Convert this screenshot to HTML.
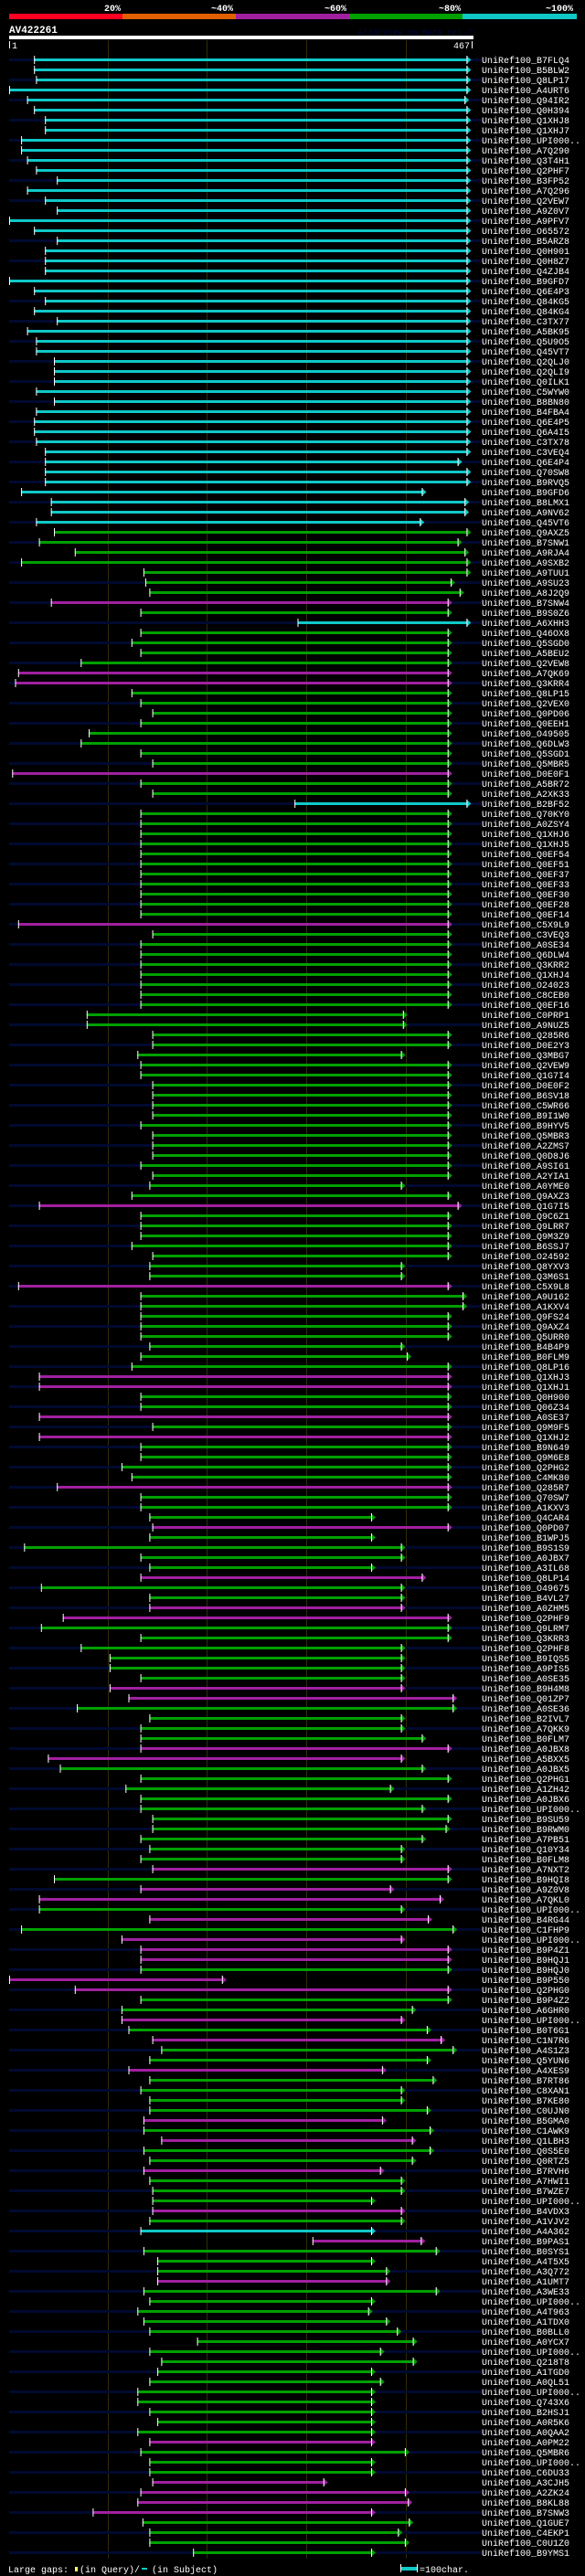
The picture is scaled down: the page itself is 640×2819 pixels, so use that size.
<!DOCTYPE html>
<html><head><meta charset="utf-8"><title>AlignView</title>
<style>
html,body{margin:0;padding:0;background:#000;}
svg{display:block;}
text{font-family:"Liberation Mono",monospace;}
</style></head>
<body>
<svg id="chart" width="640" height="2819" xmlns="http://www.w3.org/2000/svg">
  <rect x="0" y="0" width="640" height="2819" fill="#000"/>
  <g>
    <rect x="10" y="15" width="124" height="6" fill="#ff0020"/>
    <rect x="134" y="15" width="124" height="6" fill="#e06000"/>
    <rect x="258" y="15" width="124" height="6" fill="#a020a0"/>
    <rect x="382" y="15" width="124" height="6" fill="#00a000"/>
    <rect x="506" y="15" width="125" height="6" fill="#10c8c8"/>
    <text x="123" y="12" fill="#fff" font-size="10" font-weight="bold" text-anchor="middle">20%</text>
    <text x="243" y="12" fill="#fff" font-size="10" font-weight="bold" text-anchor="middle">~40%</text>
    <text x="367" y="12" fill="#fff" font-size="10" font-weight="bold" text-anchor="middle">~60%</text>
    <text x="492" y="12" fill="#fff" font-size="10" font-weight="bold" text-anchor="middle">~80%</text>
    <text x="612" y="12" fill="#fff" font-size="10" font-weight="bold" text-anchor="middle">~100%</text>
  </g>
  <text x="10" y="36" fill="#fff" font-size="11" font-weight="bold">AV422261</text>
  <text x="516" y="38" fill="#000840" font-size="9" text-anchor="end">AlignView.pm Beta rel.7</text>
  <rect x="10" y="39" width="508" height="4" fill="#fff"/>
  <rect x="10" y="45" width="1" height="8" fill="#fff"/>
  <text x="13" y="53" fill="#fff" font-size="10">1</text>
  <text x="514" y="53" fill="#fff" font-size="10" text-anchor="end">467</text>
  <rect x="516" y="45" width="1" height="8" fill="#fff"/>
  <g id="grid"></g>
  <g id="rows"></g>
  <g>
    <text x="9" y="2815" fill="#fff" font-size="10">Large gaps:</text>
    <rect x="82" y="2809" width="3" height="5" fill="#ffff60"/>
    <text x="87" y="2815" fill="#fff" font-size="10">(in Query)/</text>
    <rect x="155" y="2810" width="6" height="2" fill="#10c8c8"/>
    <text x="166" y="2815" fill="#fff" font-size="10">(in Subject)</text>
    <rect x="439" y="2809" width="17" height="4" fill="#10c8c8"/>
    <rect x="438" y="2806" width="1" height="9" fill="#fff"/>
    <rect x="456" y="2806" width="1" height="9" fill="#fff"/>
    <text x="459" y="2815" fill="#fff" font-size="10">=100char.</text>
  </g>
</svg>
<script>
const queryLength = 467;
const gridTicks = [100, 200, 300, 400];
const hitNames = ["B7FLQ4","B5BLW2","Q8LP17","A4URT6","Q94IR2","Q0H394","Q1XHJ8","Q1XHJ7","UPI000..","A7Q290","Q3T4H1","Q2PHF7","B3FP52","A7Q296","Q2VEW7","A9Z0V7","A9PFV7","O65572","B5ARZ8","Q0H901","Q0H8Z7","Q4ZJB4","B9GFD7","Q6E4P3","Q84KG5","Q84KG4","C3TX77",
"A5BK95","Q5U9O5","Q45VT7","Q2QLJ0","Q2QLI9","Q0ILK1","C5WYW0","B8BN80","B4FBA4","Q6E4P5","Q6A4I5","C3TX78","C3VEQ4","Q6E4P4","Q70SW8","B9RVQ5","B9GFD6","B8LMX1","A9NV62","Q45VT6","Q9AXZ5","B7SNW1","A9RJA4","A9SXB2","A9TUU1","A9SU23","A8J2Q9",
"B7SNW4","B9S0Z6","A6XHH3","Q46OX8","Q5SGD0","A5BEU2","Q2VEW8","A7QK69","Q3KRR4","Q8LP15","Q2VEX0","Q0PD06","Q0EEH1","O49505","Q6DLW3","Q5SGD1","Q5MBR5","D0E0F1","A5BR72","A2XK33","B2BF52","Q70KY0","A0ZSY4","Q1XHJ6","Q1XHJ5","Q0EF54","Q0EF51","Q0EF37",
"Q0EF33","Q0EF30","Q0EF28","Q0EF14","C5X9L9","C3VEQ3","A0SE34","Q6DLW4","Q3KRR2","Q1XHJ4","O24023","C8CEB0","Q0EF16","C0PRP1","A9NUZ5","Q285R6","D0E2Y3","Q3MBG7","Q2VEW9","Q1G7I4","D0E0F2","B6SV18","C5WR66","B9I1W0","B9HYV5","Q5MBR3","A2ZMS7",
"Q0D8J6","A9SI61","A2YIA1","A0YME0","Q9AXZ3","Q1G7I5","Q9C6Z1","Q9LRR7","Q9M3Z9","B6SSJ7","O24592","Q8YXV3","Q3M6S1","C5X9L8","A9U162","A1KXV4","Q9FS24","Q9AXZ4","Q5URR0","B4B4P9","B0FLM9","Q8LP16","Q1XHJ3","Q1XHJ1","Q0H900","Q06Z34","A0SE37",
"Q9M9F5","Q1XHJ2","B9N649","Q9M6E8","Q2PHG2","C4MK80","Q285R7","Q70SW7","A1KXV3","Q4CAR4","Q0PD07","B1WPJ5","B9S1S9","A0JBX7","A3IL68","Q8LP14","O49675","B4VL27","A0ZHM5","Q2PHF9","Q9LRM7","Q3KRR3","Q2PHF8","B9IQS5","A9PIS5","A0SE35","B9H4M8",
"Q01ZP7","A0SE36","B2IVL7","A7QKK9","B0FLM7","A0JBX8","A5BXX5","A0JBX5","Q2PHG1","A1ZH42","A0JBX6","UPI000..","B9SU59","B9RWM0","A7PB51","Q10Y34","B0FLM8","A7NXT2","B9HQI8","A9Z0V8","A7QKL0","UPI000..","B4RG44","C1FHP9","UPI000..","B9P4Z1","B9HQJ1","B9HQJ0",
"B9P550","Q2PHG0","B9P4Z2","A6GHR0","UPI000..","B0T6G1","C1N7R6","A4S1Z3","Q5YUN6","A4XES9","B7RT86","C8XAN1","B7KE80","C0UJN0","B5GMA0","C1AWK9","Q1LBH3","Q0S5E0","Q0RTZ5","B7RVH6","A7HWI1","B7WZE7","UPI000..","B4VDX3","A1VJV2","A4A362","B9PAS1",
"B0SYS1","A4T5X5","A3Q772","A1UMT7","A3WE33","UPI000..","A4T963","A1TDX0","B0BLL0","A0YCX7","UPI000..","Q218T8","A1TGD0","A0QL51","UPI000..","Q743X6","B2HSJ1","A0R5K6","A0QAA2","A0PM22","Q5MBR6","UPI000..","C6DU33","A3CJH5","A2ZK24","B8KL88","B7SNW3","Q1GUE7","C4EKP1","C0U1Z0","B9YMS1"];
const hitStarts = [26,26,28,1,19,26,37,37,13,13,19,28,49,19,37,49,1,26,49,37,37,37,1,26,37,26,49,
19,28,28,46,46,46,28,46,28,26,26,28,37,37,37,37,13,43,43,28,46,31,67,13,136,138,142,
43,133,291,133,124,133,73,10,7,124,133,145,133,81,73,133,145,4,133,145,288,133,133,133,133,133,133,133,
133,133,133,133,10,145,133,133,133,133,133,133,133,79,79,145,145,130,133,133,145,145,145,145,133,145,145,
145,133,145,142,124,31,133,133,133,124,145,142,142,10,133,133,133,133,133,142,133,124,31,31,133,133,31,
145,31,133,133,114,124,49,133,133,142,145,142,16,133,142,133,33,142,142,55,33,133,73,102,102,133,102,
121,69,142,133,133,133,40,52,133,118,133,133,145,145,133,142,133,145,46,133,31,31,142,13,114,133,133,133,
1,67,133,114,114,121,145,154,142,121,142,133,142,142,136,136,154,136,142,136,142,145,145,145,142,133,306,
136,150,150,150,136,142,130,136,142,190,142,154,150,142,130,130,142,150,130,142,133,142,142,145,133,130,85,135,142,142,186];
const hitEnds = [461,461,461,461,459,461,461,461,461,461,461,461,461,461,461,461,461,461,461,461,461,461,461,461,461,461,461,
461,461,461,461,461,461,461,461,461,461,461,461,461,452,461,461,416,459,459,414,461,452,459,461,461,445,454,
442,442,461,442,442,442,442,442,442,442,442,442,442,442,442,442,442,442,442,442,461,442,442,442,442,442,442,442,
442,442,442,442,442,442,442,442,442,442,442,442,442,397,397,442,442,395,442,442,442,442,442,442,442,442,442,
442,442,442,395,442,452,442,442,442,442,442,395,395,442,457,457,442,442,442,395,401,442,442,442,442,442,442,
442,442,442,442,442,442,442,442,442,365,442,365,395,395,365,416,395,395,395,442,442,442,395,395,395,395,395,
447,447,395,395,416,442,395,416,442,384,442,416,442,440,416,395,395,442,442,384,434,395,422,447,395,442,442,442,
215,442,442,406,395,421,435,447,421,376,427,395,395,421,376,424,406,424,406,374,395,395,365,395,395,365,415,
430,365,380,380,430,365,362,380,391,407,374,407,365,374,365,365,365,365,365,365,399,365,365,317,399,402,365,403,392,399,365];
const hitIdentityClass = "ccccccccccccccccccccccccccccccccccccccccccccccc"+"ggggggg"+"mgcggggmmggggggggmggcggggggggggg"+"mggggggggggggggggggggggggggg"+"mgggggggmggggggggmmggmgmggggmgggmggggmggmmggggggmmggggmmggggggggggmgmmgmgmmm"+"gmmggmgmggmggggmgmggmgggmgc"+"mgggmgggggggggggggggmgggmmmmgg";

const colorMap = {c:"#10c8c8", g:"#00a000", m:"#a020a0"};
const svg = document.getElementById("chart");
const NS = "http://www.w3.org/2000/svg";
function xScale(pos){ return 10 + (pos - 1) * 508 / queryLength; }
function rowY(i){ return 65 + i * 11; }
function mk(tag, attrs, parent){
  const e = document.createElementNS(NS, tag);
  for (const k in attrs) e.setAttribute(k, attrs[k]);
  parent.appendChild(e);
  return e;
}
const grid = document.getElementById("grid");
const rows = document.getElementById("rows");
// stripes (odd rows) first
for (let i = 0; i < hitNames.length; i += 2) {
  const s = mk("rect", {x:10, y:rowY(i)-1, width:517, height:3, fill:"#000a30"}, rows);
  
  
}
gridTicks.forEach(function(t){
  const l = mk("rect", {x:Math.round(xScale(t)), y:44, width:1, height:2756, fill:"#302c08"}, grid);
  
  
});
for (let i = 0; i < hitNames.length; i++) {
  const y = rowY(i);
  const col = colorMap[hitIdentityClass[i]] || "#00a000";
  const x0 = xScale(hitStarts[i]), x1 = xScale(hitEnds[i]);
  const g = mk("g", {}, rows);
  
  
  const bar = mk("rect", {x:x0.toFixed(1), y:y-1, width:(x1-x0).toFixed(1), height:3, fill:col}, g);
  
  
  const tick = mk("rect", {x:x0.toFixed(1), y:y-4, width:1, height:9, fill:"#fff"}, g);
  
  
  const ar = mk("polygon", {points:(x1)+","+(y-4)+" "+(x1+5)+","+(y+0.5)+" "+(x1)+","+(y+5), fill:col}, g);
  
  
  const ae = mk("rect", {x:x1.toFixed(1), y:y-4, width:1, height:9, fill:"#fff"}, g);
  
  
  const t = mk("text", {x:527, y:y+4, fill:"#fff", "font-size":10}, g);
  t.textContent = "UniRef100_" + hitNames[i];
  
  
}
</script>
</body></html>
